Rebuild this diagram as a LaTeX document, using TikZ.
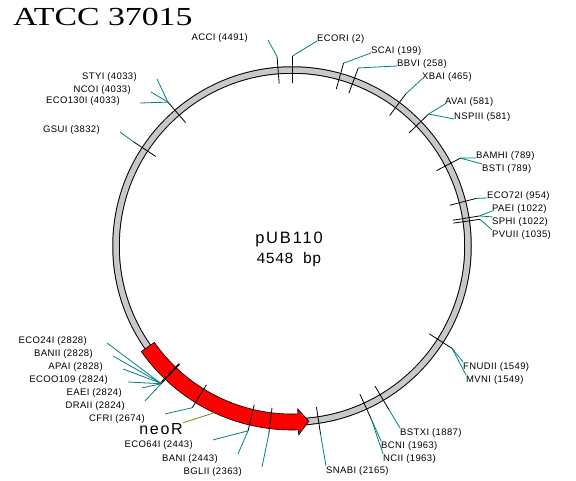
\documentclass[tikz,border=0pt]{standalone}
\usepackage{fontspec}
\usepackage{xcolor}
\usetikzlibrary{positioning}
\newfontfamily\sitefont[LetterSpace=4]{Liberation Sans}
\newfontfamily\namefont[LetterSpace=11]{Liberation Sans}
\newfontfamily\bpfont{Liberation Mono}
\newfontfamily\titlefont[FakeStretch=1.3]{Liberation Serif}
\definecolor{leadteal}{RGB}{0,128,128}
\definecolor{leadolive}{RGB}{128,128,0}
\definecolor{ringgray}{RGB}{200,200,200}
\tikzset{
    rlbl/.style={anchor=base west, inner sep=0pt, font=\sitefont\fontsize{9.5}{11}\selectfont},
    llbl/.style={anchor=base east, inner sep=0pt, font=\sitefont\fontsize{9.5}{11}\selectfont},
    sitetick/.style={black, line width=0.8pt},
    leader/.style={leadteal, line width=0.8pt}
}

\begin{document}
\begin{tikzpicture}[x=1pt, y=-1pt]
    \useasboundingbox (0,0) rectangle (576,480);
    \coordinate (c) at (292,246);

    % --- Title ---
    \node (title) [anchor=base west, inner sep=0pt, font=\titlefont\fontsize{26}{30}\selectfont] at (13,25) {ATCC 37015};

    % --- Plasmid ring ---
    \draw [line width=7.5pt] (c) circle[radius=176];
    \draw [ringgray, line width=5.5pt] (c) circle[radius=176];

    % --- neoR gene ---
    \filldraw [fill=red, draw=black, line width=0.6pt]
        ([shift={(145:184)}]c) arc[start angle=145, end angle=88, radius=184]
        -- ([shift={(88:189)}]c) -- ([shift={(84.5:176)}]c) -- ([shift={(88:163)}]c)
        -- ([shift={(88:168)}]c) arc[start angle=88, end angle=145, radius=168] -- cycle;
    \coordinate (neo) at ([shift={(115:184)}]c);

    % --- Site ticks ---
    \foreach \p/\n in {2/ecori, 199/scai, 258/bbvi, 465/xbai, 581/ava, 789/bam, 954/eco72,
        1022/pae, 1035/pvu, 1549/fnu, 1887/bstx, 1963/bcn, 2165/snab, 2363/bgl, 2443/ban,
        2674/cfr, 2824/dra, 2828/apa, 3832/gsu, 4033/sty, 4491/acc}{
        \draw [sitetick] ([shift={({\p/4548*360-90}:163)}]c) -- ([shift={({\p/4548*360-90}:190)}]c) coordinate (\n);
    }

    % --- Centre label ---
    \node (pname) [anchor=base, inner sep=0pt, font=\namefont\fontsize{16.5}{19}\selectfont] at (289,243) {pUB110};
    \node (plen) [below=5pt of pname, inner sep=0pt, font=\bpfont\fontsize{15.5}{18}\selectfont] {4548 bp};

    % --- Labels, right side ---
    \node (ecoriL) [rlbl] at (317,41) {ECORI (2)};
    \node (scaiL) [rlbl] at (371,53) {SCAI (199)};
    \node (bbviL) [rlbl] at (397,66) {BBVI (258)};
    \node (xbaiL) [rlbl] at (422,79) {XBAI (465)};
    \node (avaiL) [rlbl] at (445,104) {AVAI (581)};
    \node (nspL) [rlbl] at (454,119) {NSPIII (581)};
    \node (bamL) [rlbl] at (476,158) {BAMHI (789)};
    \node (bstiL) [rlbl] at (482,171) {BSTI (789)};
    \node (eco72L) [rlbl] at (487,198) {ECO72I (954)};
    \node (paeL) [rlbl] at (492,211) {PAEI (1022)};
    \node (sphL) [rlbl] at (492,224) {SPHI (1022)};
    \node (pvuL) [rlbl] at (492,237) {PVUII (1035)};
    \node (fnuL) [rlbl] at (463,369) {FNUDII (1549)};
    \node (mvnL) [rlbl] at (466,382) {MVNI (1549)};
    \node (bstxL) [rlbl] at (400,435) {BSTXI (1887)};
    \node (bcnL) [rlbl] at (381,448) {BCNI (1963)};
    \node (nciL) [rlbl] at (383,461) {NCII (1963)};
    \node (snabL) [rlbl] at (326,473) {SNABI (2165)};

    \draw [leader] (ecori) -- (ecoriL.base west);
    \draw [leader] (scai) -- (scaiL.base west);
    \draw [leader] (bbvi) -- (bbviL.base west);
    \draw [leader] (xbai) -- (xbaiL.base west);
    \draw [leader] (ava) -- (avaiL.base west);
    \draw [leader] (ava) -- (nspL.base west);
    \draw [leader] (bam) -- (bamL.base west);
    \draw [leader] (bam) -- (bstiL.north west);
    \draw [leader] (eco72) -- (eco72L.base west);
    \draw [leader] (pae) -- (paeL.base west);
    \draw [leader] (pae) -- (sphL.north west);
    \draw [leader] (pvu) -- (pvuL.north west);
    \draw [leader] (fnu) -- (fnuL.north west);
    \draw [leader] (fnu) -- (mvnL.north west);
    \draw [leader] (bstx) -- (bstxL.north west);
    \draw [leader] (bcn) -- (bcnL.north west);
    \draw [leader] (bcn) -- (nciL.north west);
    \draw [leader] (snab) -- (snabL.north west);

    % --- Labels, left side ---
    \node (bglL) [llbl] at (242,474) {BGLII (2363)};
    \node (banL) [llbl] at (218,461) {BANI (2443)};
    \node (eco64L) [llbl] at (193,447) {ECO64I (2443)};
    \node (cfrL) [llbl] at (145,421) {CFRI (2674)};
    \node (draL) [llbl] at (125,408) {DRAII (2824)};
    \node (eaeL) [llbl] at (122,395) {EAEI (2824)};
    \node (ecooL) [llbl] at (108,382) {ECOO109 (2824)};
    \node (apaL) [llbl] at (103,369) {APAI (2828)};
    \node (ban2L) [llbl] at (93,356) {BANII (2828)};
    \node (eco24L) [llbl] at (87,343) {ECO24I (2828)};
    \node (gsuL) [llbl] at (100,132) {GSUI (3832)};
    \node (eco130L) [llbl] at (120,103) {ECO130I (4033)};
    \node (ncoL) [llbl] at (131,92) {NCOI (4033)};
    \node (styL) [llbl] at (137,79) {STYI (4033)};
    \node (accL) [llbl] at (248,40) {ACCI (4491)};

    \draw [leader] (bgl) -- ([xshift=20pt]bglL.north east);
    \draw [leader] (ban) -- ([xshift=20pt]banL.north east);
    \draw [leader] (ban) -- ([xshift=20pt]eco64L.north east);
    \draw [leader] (cfr) -- ([xshift=20pt]cfrL.north east);
    \draw [leader] (dra) -- ([xshift=20pt]draL.north east);
    \draw [leader] (dra) -- ([xshift=20pt]eaeL.north east);
    \draw [leader] (dra) -- ([xshift=20pt]ecooL.base east);
    \draw [leader] (apa) -- ([xshift=20pt]apaL.base east);
    \draw [leader] (apa) -- ([xshift=20pt]ban2L.base east);
    \draw [leader] (apa) -- ([xshift=20pt]eco24L.base east);
    \draw [leader] (gsu) -- ([xshift=20pt]gsuL.base east);
    \draw [leader] (sty) -- ([xshift=20pt]eco130L.base east);
    \draw [leader] (sty) -- ([xshift=20pt]ncoL.base east);
    \draw [leader] (sty) -- ([xshift=20pt]styL.base east);
    \draw [leader] (acc) -- ([xshift=20pt]accL.base east);

    % --- Gene label ---
    \node (neoL) [anchor=base east, inner sep=0pt, font=\namefont\fontsize{16}{18}\selectfont] at (183,434) {neoR};
    \draw [leadolive, line width=0.8pt] (neo) -- (neoL.north east);
\end{tikzpicture}
\end{document}
